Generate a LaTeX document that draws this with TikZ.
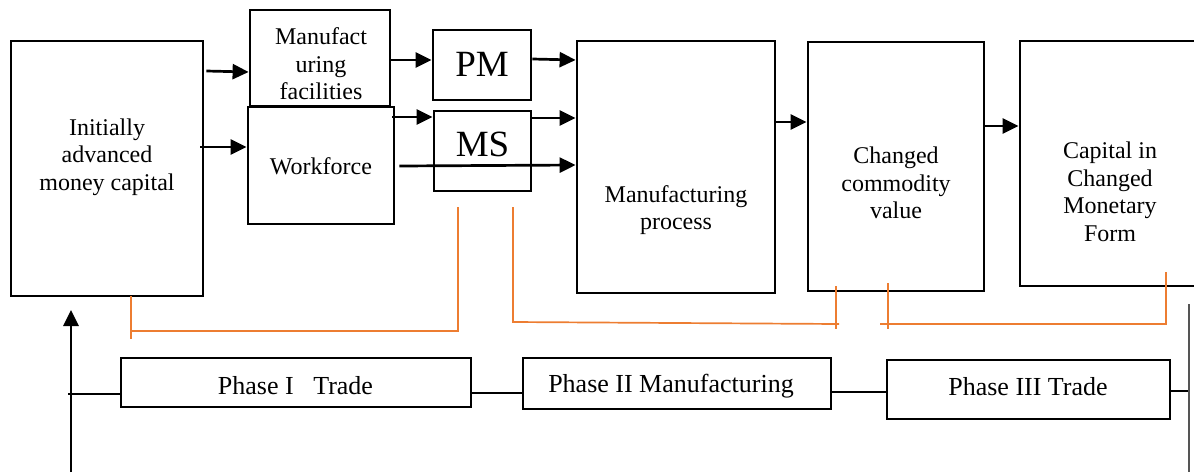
\documentclass[tikz,border=0pt]{standalone}
\usepackage{fontspec}
\setmainfont{Liberation Serif}
\usetikzlibrary{arrows.meta}
\definecolor{orangeline}{RGB}{237,125,49}
\definecolor{grayline}{RGB}{85,85,85}
\tikzset{
  box/.style={draw=black, line width=2.8pt, inner sep=0pt},
  txt/.style={align=center, font=\fontsize{24}{27.5}\selectfont, inner sep=0pt},
  phtxt/.style={font=\fontsize{26}{30}\selectfont},
  bigtxt/.style={font=\fontsize{37}{40}\selectfont, inner sep=0pt},
  arr/.style={line width=2.7pt, -{Triangle[length=16pt,width=15pt]}},
  thinline/.style={line width=1.4pt},
  orl/.style={draw=orangeline, line width=1.7pt},
  grl/.style={draw=grayline, line width=2pt},
}
\begin{document}
\begin{tikzpicture}[x=1pt,y=-1pt]
\useasboundingbox (0,0) rectangle (1194,472);
% main boxes
\node[box, minimum width=192pt, minimum height=255pt] (A) at (107,168.5) {};
\node[txt] (tA) at (107,157) {Initially\\advanced\\money capital};
\node[box, minimum width=140pt, minimum height=96pt] (MF) at (320,58) {};
\node[txt] (tMF) at (321,64) {Manufact\\uring\\facilities};
\node[box, fill=white, minimum width=146pt, minimum height=117pt] (WF) at (321,165.5) {};
\node[txt] (tWF) at (321,166) {Workforce};
\node[box, minimum width=98pt, minimum height=70pt] (PM) at (482,65) {};
\node[bigtxt] (tPM) at (482,64) {PM};
\node[box, minimum width=97pt, minimum height=80pt] (MS) at (482.5,151) {};
\node[bigtxt] (tMS) at (482.5,144.5) {MS};
\node[box, minimum width=198pt, minimum height=252pt] (MP) at (676,167) {};
\node[txt] (tMP) at (676,210) {Manufacturing\\process};
\node[box, minimum width=176pt, minimum height=249pt] (CC) at (896,166.5) {};
\node[txt] (tCC) at (896,183) {Changed\\commodity\\value};
\node[box, minimum width=200pt, minimum height=245pt] (CP) at (1120,163.5) {};
\node[txt] (tCP) at (1110,192) {Capital in\\Changed\\Monetary\\Form};
% phase boxes
\node[box, minimum width=350pt, minimum height=49pt] (P1) at (296,382.5) {};
\node[txt, phtxt] (tP1) at (295.5,386) {Phase I\ \ \ Trade};
\node[box, minimum width=308pt, minimum height=51pt] (P2) at (677,383.5) {};
\node[txt, phtxt] (tP2) at (671,386) {Phase II Manufacturing};
\node[box, minimum width=283pt, minimum height=59pt] (P3) at (1028.5,389.5) {};
\node[txt, phtxt] (tP3) at (1028,387) {Phase III Trade};
% arrows
\draw[arr] ([xshift=2pt]A.east |- 0,71) -- (MF.west |- 0,72);
\draw[arr] ([xshift=-4pt]A.east |- 0,147) -- (WF.west |- 0,147);
\draw[arr] (MF.east |- 0,60) -- (PM.west |- 0,60);
\draw[arr] ([xshift=-3pt]WF.east |- 0,117) -- (MS.west |- 0,117);
\draw[arr] (PM.east |- 0,59) -- (MP.west |- 0,60);
\draw[arr] (MS.east |- 0,118) -- (MP.west |- 0,118);
\draw[arr] ([xshift=4pt]WF.east |- 0,166) -- (MP.west |- 0,165);
\draw[arr] (MP.east |- 0,122) -- (CC.west |- 0,122);
\draw[arr] (CC.east |- 0,126) -- (CP.west |- 0,126);
% upward arrow
\coordinate (up0) at (71,472);
\coordinate (up1) at (71,310);
\draw[arr] (up0) -- (up1);
% phase line
\coordinate (hl) at (68,394);
\coordinate (hr) at (1189,391);
\draw[thinline] (hl) -- (P1.west |- hl);
\draw[thinline] (P1.east |- 0,393) -- (P2.west |- 0,393);
\draw[thinline] (P2.east |- 0,392) -- (P3.west |- 0,392);
\draw[thinline] (P3.east |- hr) -- (hr);
\coordinate (gr0) at (1189,304);
\coordinate (gr1) at (1189,472);
\draw[grl] (gr0) -- (gr1);
% orange brackets
\coordinate (o1a) at (131,296);
\coordinate (o1b) at (131,339);
\coordinate (o1c) at (131,331);
\coordinate (o1d) at (458,207);
\draw[orl] (o1a) -- (o1b);
\draw[orl] (o1c) -| (o1d);
\coordinate (o2a) at (513,207);
\coordinate (o2b) at (513,322);
\coordinate (o2c) at (839,324);
\coordinate (o2d) at (836,286);
\coordinate (o2e) at (836,329);
\draw[orl] (o2a) -- (o2b) -- (o2c);
\draw[orl] (o2d) -- (o2e);
\coordinate (o3a) at (888,283);
\coordinate (o3b) at (888,329);
\coordinate (o3c) at (880,324);
\coordinate (o3d) at (1166,272);
\draw[orl] (o3a) -- (o3b);
\draw[orl] (o3c) -| (o3d);
\end{tikzpicture}
\end{document}
